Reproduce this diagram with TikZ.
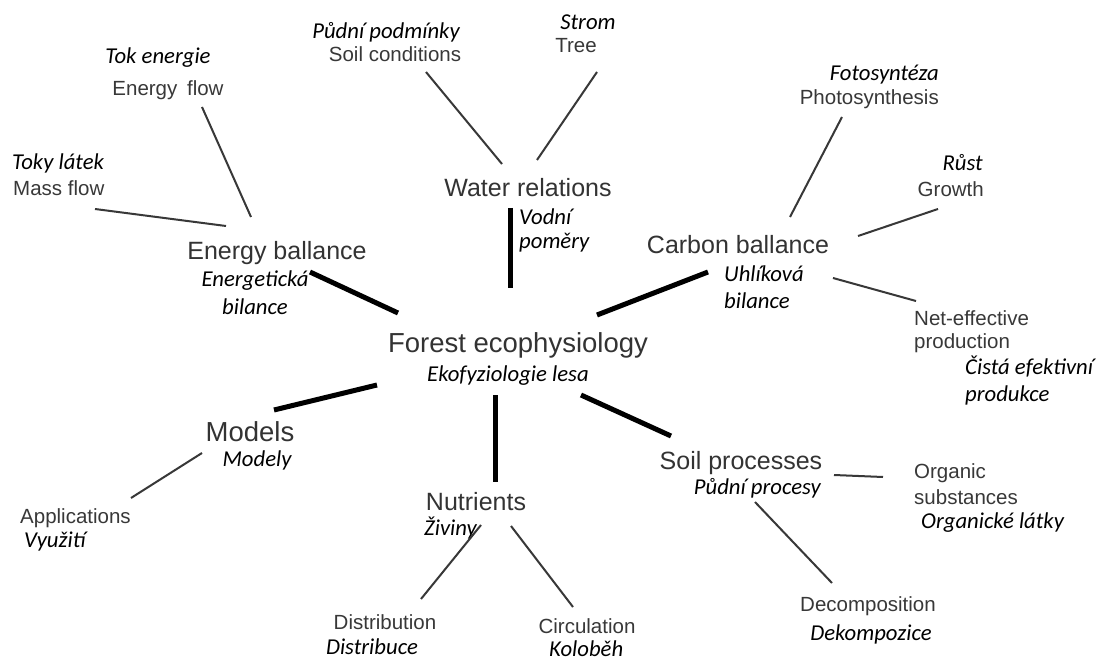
\documentclass[tikz,border=0pt]{standalone}
\usepackage{fontspec}
\setmainfont{Liberation Sans}
\newfontfamily\czfont{Carlito}
\begin{document}
\begin{tikzpicture}[x=1pt,y=-1pt,
  en/.style={inner sep=0pt,text=black!78,font=\fontsize{20.5}{24}\selectfont},
  mainn/.style={inner sep=0pt,text=black!80,font=\fontsize{25}{30}\selectfont},
  bign/.style={inner sep=0pt,text=black!80,font=\fontsize{27.5}{32}\selectfont},
  cz/.style={inner sep=0pt,text=black,font=\czfont\itshape\fontsize{22.7}{26}\selectfont},
  thin/.style={draw=black!78,line width=2pt},
  thick/.style={draw=black,line width=5pt}]
\useasboundingbox[fill=white] (0,0) rectangle (1096,663);

% texts
\node[cz] (tok) at (158,58) {Tok energie};
\node[en] (eflow) at (168,90) {Energy\hspace{4pt} flow};
\node[cz,anchor=west] (toky) at (12,163) {Toky látek};
\node[en,anchor=west] (mass) at (13,188) {Mass flow};
\node[mainn] (eb) at (277,253) {Energy ballance};
\node[cz] (ebcz1) at (255,281) {Energetická};
\node[cz] (ebcz2) at (255,307) {bilance};

\node[cz] (pudni) at (386,32) {Půdní podmínky};
\node[en] (soilc) at (395,54) {Soil conditions};
\node[cz] (strom) at (588,22) {Strom};
\node[en] (tree) at (576,46) {Tree};
\node[mainn] (wr) at (528,188) {Water relations};
\node[cz,anchor=west] (wrcz1) at (519,217) {Vodní};
\node[cz,anchor=west] (wrcz2) at (519,243) {poměry};

\node[cz,anchor=east] (foto) at (939,75) {Fotosyntéza};
\node[en,anchor=east] (photo) at (939,99) {Photosynthesis};
\node[cz,anchor=east] (rust) at (983,163) {Růst};
\node[en,anchor=east] (growth) at (984,189) {Growth};
\node[mainn] (cb) at (738,245) {Carbon ballance};
\node[cz,anchor=west] (cbcz1) at (724,274) {Uhlíková};
\node[cz,anchor=west] (cbcz2) at (724,301) {bilance};
\node[en,anchor=west] (net1) at (914,318) {Net-effective};
\node[en,anchor=west] (net2) at (914,343) {production};
\node[cz,anchor=west] (netcz1) at (965,367) {Čistá efektivní};
\node[cz,anchor=west] (netcz2) at (965,395) {produkce};

\node[bign] (forest) at (518,345) {Forest ecophysiology};
\node[cz] (eko) at (508,376) {Ekofyziologie lesa};

\node[bign] (models) at (250,432) {Models};
\node[cz] (modely) at (257,460) {Modely};
\node[en,anchor=west] (appl) at (20,518) {Applications};
\node[cz,anchor=west] (vyuz) at (24,542) {Využití};

\node[mainn] (nutr) at (476,502) {Nutrients};
\node[cz,anchor=west] (ziv) at (424,528) {Živiny};
\node[en] (distr) at (385,622) {Distribution};
\node[cz] (distrcz) at (372,647) {Distribuce};
\node[en] (circ) at (587,626) {Circulation};
\node[cz,anchor=west] (kol) at (549,649) {Koloběh};

\node[mainn] (soil) at (741,463) {Soil processes};
\node[cz,anchor=east] (soilcz) at (821,488) {Půdní procesy};
\node[en,anchor=west] (org1) at (914,473) {Organic};
\node[en,anchor=west] (org2) at (914,497) {substances};
\node[cz,anchor=west] (orgcz) at (921,523) {Organické látky};
\node[en] (decomp) at (868,606) {Decomposition};
\node[cz] (dekomp) at (871,634) {Dekompozice};

% connector end points
\coordinate (a1) at (202,107); \coordinate (a2) at (251,217);
\coordinate (b1) at (95,209);  \coordinate (b2) at (226,226);
\coordinate (c1) at (426,72);  \coordinate (c2) at (502,164);
\coordinate (d1) at (597,72);  \coordinate (d2) at (537,160);
\coordinate (e1) at (842,117); \coordinate (e2) at (790,217);
\coordinate (f1) at (938,209); \coordinate (f2) at (858,236);
\coordinate (g1) at (833,278); \coordinate (g2) at (916,301);
\coordinate (h1) at (202,453); \coordinate (h2) at (131,498);
\coordinate (i1) at (481,525); \coordinate (i2) at (421,599);
\coordinate (j1) at (511,526); \coordinate (j2) at (573,607);
\coordinate (k1) at (834,475); \coordinate (k2) at (883,477);
\coordinate (l1) at (755,502); \coordinate (l2) at (832,583);

\coordinate (m1) at (310,272); \coordinate (m2) at (398,313);
\coordinate (n1) at (510,208); \coordinate (n2) at (510,288);
\coordinate (o1) at (597,315); \coordinate (o2) at (708,272);
\coordinate (p1) at (377,385); \coordinate (p2) at (274,410);
\coordinate (q1) at (495,395); \coordinate (q2) at (495,482);
\coordinate (r1) at (581,395); \coordinate (r2) at (671,436);

\draw[thin] (a1) -- (a2);
\draw[thin] (b1) -- (b2);
\draw[thin] (c1) -- (c2);
\draw[thin] (d1) -- (d2);
\draw[thin] (e1) -- (e2);
\draw[thin] (f1) -- (f2);
\draw[thin] (g1) -- (g2);
\draw[thin] (h1) -- (h2);
\draw[thin] (i1) -- (i2);
\draw[thin] (j1) -- (j2);
\draw[thin] (k1) -- (k2);
\draw[thin] (l1) -- (l2);

\draw[thick] (m1) -- (m2);
\draw[thick] (n1) -- (n2);
\draw[thick] (o1) -- (o2);
\draw[thick] (p1) -- (p2);
\draw[thick] (q1) -- (q2);
\draw[thick] (r1) -- (r2);
\end{tikzpicture}
\end{document}
